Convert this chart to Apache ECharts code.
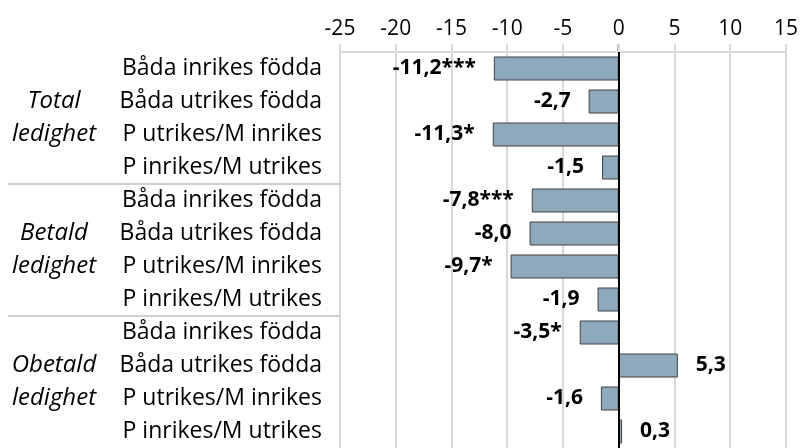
<!DOCTYPE html>
<html>
<head>
<meta charset="utf-8">
<script src="https://cdn.jsdelivr.net/npm/echarts@6/dist/echarts.min.js"></script>
<style>
  html, body { margin: 0; padding: 0; background: #fff; }
  #chart { width: 801px; height: 448px; }
</style>
</head>
<body>
<div id="chart"></div>
<script>
// rader (uppifrån och ned)
const categories = [
  'Båda inrikes födda', 'Båda utrikes födda', 'P utrikes/M inrikes', 'P inrikes/M utrikes',
  'Båda inrikes födda', 'Båda utrikes födda', 'P utrikes/M inrikes', 'P inrikes/M utrikes',
  'Båda inrikes födda', 'Båda utrikes födda', 'P utrikes/M inrikes', 'P inrikes/M utrikes'
]
const groups = ['Total\nledighet', 'Betald\nledighet', 'Obetald\nledighet']
const values = [-11.2, -2.7, -11.3, -1.5, -7.8, -8.0, -9.7, -1.9, -3.5, 5.3, -1.6, 0.3]
const stars = ['***', '', '*', '', '***', '', '*', '', '*', '', '', '']
const xTicks = [-25, -20, -15, -10, -5, 0, 5, 10, 15]

const font = '"Open Sans", Lato, sans-serif'
const grey = '#d9d9d9'

const myChart = echarts.init(document.getElementById('chart'))

const option = {
  animation: false,
  backgroundColor: '#fff',
  grid: { left: 340, right: 14, top: 52, bottom: -5.4, containLabel: false },
  xAxis: {
    type: 'value',
    position: 'top',
    min: xTicks[0],
    max: xTicks[xTicks.length - 1],
    interval: 5,
    axisLine: { show: true, lineStyle: { color: grey, width: 2 } },
    axisTick: { show: true, length: 8, lineStyle: { color: grey, width: 2 } },
    splitLine: { show: true, lineStyle: { color: grey, width: 2 } },
    axisLabel: { color: '#000', fontFamily: font, fontSize: 21, margin: 12 }
  },
  yAxis: [
    {
      type: 'category',
      data: categories,
      inverse: true,
      axisLine: { show: false },
      axisTick: { show: false },
      axisLabel: { color: '#000', fontFamily: font, fontSize: 23, margin: 18, interval: 0 }
    },
    {
      // gruppetiketter
      type: 'category',
      data: groups,
      inverse: true,
      position: 'left',
      axisLine: { show: false },
      axisTick: { show: false },
      axisLabel: {
        color: '#000', fontFamily: font, fontSize: 24, fontStyle: 'italic',
        align: 'center', margin: 286, lineHeight: 33, interval: 0
      }
    }
  ],
  series: [
    {
      type: 'bar',
      yAxisIndex: 0,
      barWidth: 24,
      data: values.map((v, i) => ({
        value: v,
        label: { position: v < 0 ? 'left' : 'right' }
      })),
      itemStyle: { color: '#8fa9bc', borderColor: '#404040', borderWidth: 1 },
      label: {
        show: true,
        distance: 18,
        color: '#000',
        fontFamily: font,
        fontSize: 21,
        fontWeight: 'bold',
        formatter: p => values[p.dataIndex].toFixed(1).replace('.', ',') + stars[p.dataIndex]
      },
      markLine: {
        silent: true,
        symbol: 'none',
        label: { show: false },
        lineStyle: { color: '#000', width: 2, type: 'solid' },
        data: [{ xAxis: 0 }]
      }
    }
  ]
}

myChart.setOption(option)

// skiljelinjer mellan grupperna + nollinjens topp
const left = myChart.convertToPixel({ xAxisIndex: 0 }, xTicks[0])
const zeroX = myChart.convertToPixel({ xAxisIndex: 0 }, 0)
const y3 = myChart.convertToPixel({ yAxisIndex: 0 }, 3)
const y4 = myChart.convertToPixel({ yAxisIndex: 0 }, 4)
const y7 = myChart.convertToPixel({ yAxisIndex: 0 }, 7)
const y8 = myChart.convertToPixel({ yAxisIndex: 0 }, 8)
myChart.setOption({
  graphic: [
    { type: 'line', shape: { x1: 8, y1: (y3 + y4) / 2, x2: left, y2: (y3 + y4) / 2 }, style: { stroke: '#bfbfbf', lineWidth: 1.5 } },
    { type: 'line', shape: { x1: 8, y1: (y7 + y8) / 2, x2: left, y2: (y7 + y8) / 2 }, style: { stroke: '#bfbfbf', lineWidth: 1.5 } },
    { type: 'line', shape: { x1: zeroX, y1: 44, x2: zeroX, y2: 53 }, style: { stroke: '#000', lineWidth: 2 } }
  ]
})
</script>
</body>
</html>
